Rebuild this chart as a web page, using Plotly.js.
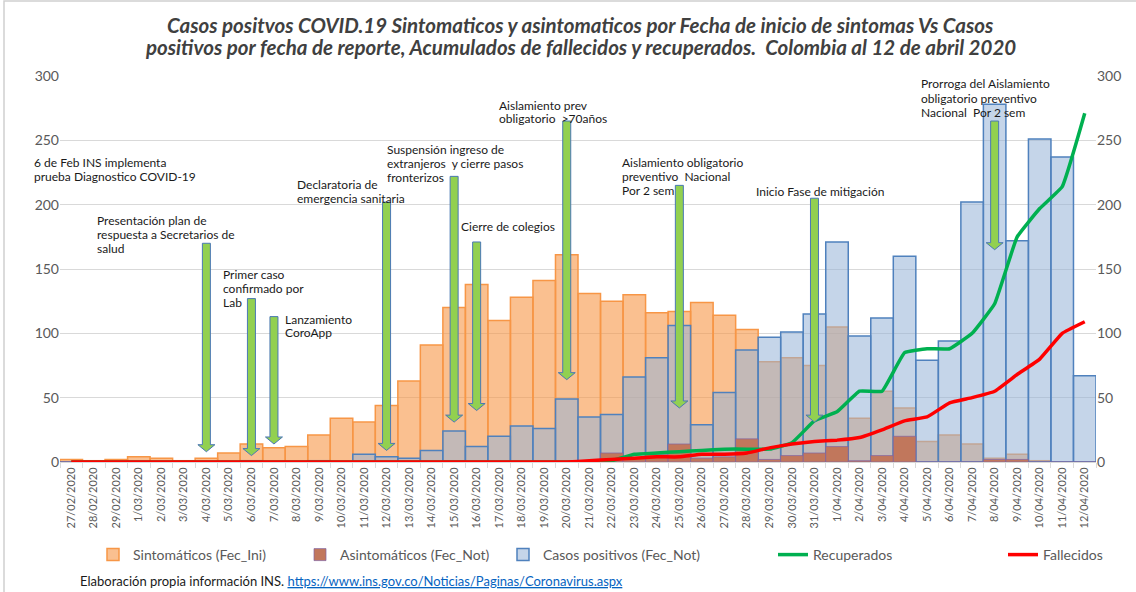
<!DOCTYPE html>
<html>
<head>
<meta charset="utf-8">
<script src="https://cdn.plot.ly/plotly-3.0.1.min.js"></script>
<style>html,body{margin:0;padding:0;background:#fff;}#chart{width:1136px;height:592px;}</style>
</head>
<body>
<div id="chart"></div>
<script>
const fechas = ['27/02/2020','28/02/2020','29/02/2020','1/03/2020','2/03/2020','3/03/2020','4/03/2020','5/03/2020','6/03/2020','7/03/2020','8/03/2020','9/03/2020','10/03/2020','11/03/2020','12/03/2020','13/03/2020','14/03/2020','15/03/2020','16/03/2020','17/03/2020','18/03/2020','19/03/2020','20/03/2020','21/03/2020','22/03/2020','23/03/2020','24/03/2020','25/03/2020','26/03/2020','27/03/2020','28/03/2020','29/03/2020','30/03/2020','31/03/2020','1/04/2020','2/04/2020','3/04/2020','4/04/2020','5/04/2020','6/04/2020','7/04/2020','8/04/2020','9/04/2020','10/04/2020','11/04/2020','12/04/2020'];

const sintomaticos = [2,1,2,4,3,1,3,7,14,11,12,21,34,31,44,63,91,120,138,110,128,141,161,131,125,130,116,117,124,114,103,78,81,75,105,34,55,42,16,21,14,3,6,1,0,0];

const asintomaticos = [0,0,0,0,0,0,0,0,0,0,0,0,0,0,0,0,0,1,0,0,0,0,0,0,7,3,6,14,3,4,18,2,5,7,12,1,5,20,0,0,0,2,2,0,0,0];

const casosPositivos = [0,0,0,0,0,0,0,0,1,0,0,1,0,6,4,3,9,24,12,20,28,26,49,35,37,66,81,106,29,54,87,97,101,115,171,98,112,160,79,94,202,278,172,251,237,67];

const recuperados = [0,0,0,0,0,0,0,0,0,0,0,0,0,0,0,0,0,0,0,0,0,0,0,0,1,6,7,8,9,10,10,10,15,32,39,55,55,85,88,88,100,123,175,197,214,271];

const fallecidos = [0,0,0,0,0,0,0,0,0,0,0,0,0,0,0,0,0,0,0,0,0,0,0,1,2,3,4,4,6,6,7,11,14,16,17,19,25,32,35,46,50,55,68,80,100,109];

const nombresSeries = ['Sintomáticos (Fec_Ini)','Asintomáticos (Fec_Not)','Casos positivos (Fec_Not)','Recuperados','Fallecidos'];

// Hitos: fecha del evento, inicio y punta de la flecha (en casos)
const hitoFechas = ['4/03/2020','6/03/2020','7/03/2020','12/03/2020','15/03/2020','16/03/2020','20/03/2020','25/03/2020','31/03/2020','8/04/2020'];
const hitoInicio = [170,127,113,202,222,171,265,215,205,265];
const hitoPunta  = [8,5,14,9,31,40,64,42,31,165];

const tituloLineas = [
  'Casos positvos COVID.19 Sintomaticos y asintomaticos por Fecha de inicio de sintomas Vs Casos',
  'positivos por fecha de reporte, Acumulados de fallecidos y recuperados.  Colombia al 12 de abril 2020'
];

// ---- layout helpers (pixel -> paper) ----
const L = 60, R = 1096, T = 76, B = 462;
const px = x => (x - L) / (R - L);
const py = y => (B - y) / (B - T);

const FONT = 'Lato, "Open Sans", sans-serif';

const traces = [
  {type:'bar', name:nombresSeries[0], x:fechas, y:sintomaticos, legend:'legend',
   marker:{color:'rgba(247,150,70,0.6)', line:{color:'#f79646', width:1.5}}},
  {type:'bar', name:nombresSeries[2], x:fechas, y:casosPositivos, legend:'legend3',
   marker:{color:'rgba(149,179,215,0.55)', line:{color:'#4f81bd', width:1.5}}},
  {type:'bar', name:nombresSeries[1], x:fechas, y:asintomaticos, legend:'legend2',
   marker:{color:'#c1775c', line:{color:'rgba(128,100,162,0.7)', width:1}}},
  {type:'scatter', mode:'lines', name:nombresSeries[3], x:fechas, y:recuperados, yaxis:'y2', legend:'legend4',
   line:{color:'#00b050', width:3.5, shape:'spline', smoothing:0.3}},
  {type:'scatter', mode:'lines', name:nombresSeries[4], x:fechas, y:fallecidos, yaxis:'y2', legend:'legend5',
   line:{color:'#ff0000', width:3.5, shape:'spline', smoothing:0.3}}
];

// Notes: [left px, center-y px, text]
const notas = [
  [32,162,'6 de Feb INS implementa'],[32,176,'prueba Diagnostico COVID-19'],
  [95,220,'Presentación plan de'],[95,234,'respuesta a Secretarios de'],[95,248,'salud'],
  [221,274,'Primer caso'],[221,288,'confirmado por'],[221,302,'Lab'],
  [283,319,'Lanzamiento'],[283,333,'CoroApp'],
  [295,184,'Declaratoria de'],[295,198,'emergencia sanitaria'],
  [385,149,'Suspensión ingreso de'],[385,163,'extranjeros  y cierre pasos'],[385,177,'fronterizos'],
  [459,227,'Cierre de colegios'],
  [497,105,'Aislamiento prev'],[497,118,'obligatorio  >70años'],
  [620,162,'Aislamiento obligatorio'],[620,176,'preventivo  Nacional'],[620,190,'Por 2 sem'],
  [754,191,'Inicio Fase de mitigación'],
  [919,84,'Prorroga del Aislamiento'],[919,98,'obligatorio preventivo'],[919,112,'Nacional  Por 2 sem']
];

const annotations = notas.map(n => ({
  xref:'paper', yref:'paper', x:px(n[0]), y:py(n[1]), xanchor:'left', yanchor:'middle',
  text:n[2], showarrow:false, font:{family:FONT, size:12, color:'#1a1a1a'}
}));

// title lines
[[25, tituloLineas[0]], [47, tituloLineas[1]]].forEach(t => {
  annotations.push({xref:'paper', yref:'paper', x:px(580), y:py(t[0]), xanchor:'center', yanchor:'middle',
    showarrow:false, text:'<b><i>'+t[1]+'</i></b>', font:{family:FONT, size:20.5, color:'#404040'}});
});

annotations.push({
  xref:'paper', yref:'paper', x:px(78), y:py(581), xanchor:'left', yanchor:'middle', showarrow:false,
  text:'Elaboración propia información INS. <a href="https://www.ins.gov.co/Noticias/Paginas/Coronavirus.aspx" style="color:#0563c1;text-decoration:underline">https://www.ins.gov.co/Noticias/Paginas/Coronavirus.aspx</a>',
  font:{family:FONT, size:13, color:'#1a1a1a'}
});

// Block arrows
const headH = 7 * 300 / 386;
const shapes = hitoFechas.map((f, i) => {
  const t = hitoInicio[i], p = hitoPunta[i], h = p + headH;
  return {
    type:'path', xref:'x', yref:'y', xsizemode:'pixel', xanchor:f,
    path:`M-4,${t} L4,${t} L4,${h} L8.5,${h} L0,${p} L-8.5,${h} L-4,${h} Z`,
    fillcolor:'#92d050', line:{color:'#4a78b5', width:1}, layer:'above'
  };
});
// thin outer frame
shapes.push({type:'path', xref:'paper', yref:'paper',
  path:`M${px(4)},${py(600)} L${px(4)},${py(1)} L${px(1140)},${py(1)}`,
  line:{color:'#d0d0d0', width:1.5}, layer:'below'});

const legendBase = {orientation:'h', xanchor:'left', y:py(555), yanchor:'middle',
  font:{family:FONT, size:14, color:'#595959'}, bgcolor:'rgba(0,0,0,0)', itemwidth:30};
const textStarts = [135, 342, 545, 815, 1045];

const layout = {
  width:1136, height:592,
  margin:{l:L, r:1136-R, t:T, b:592-B, pad:0},
  paper_bgcolor:'#ffffff', plot_bgcolor:'#ffffff',
  barmode:'overlay', bargap:0,
  showlegend:true,
  xaxis:{type:'category', tickangle:-90, tickfont:{family:FONT, size:11, color:'#595959'},
         showgrid:false, showline:true, linecolor:'#d9d9d9', linewidth:1,
         ticks:'outside', tickson:'boundaries', ticklen:5, tickcolor:'#d9d9d9',
         range:[-0.5, fechas.length-0.5], fixedrange:true},
  yaxis:{range:[0,300], dtick:50, gridcolor:'#d9d9d9', gridwidth:1, zeroline:false, showline:false,
         tickfont:{family:FONT, size:14, color:'#595959'}, ticks:'', fixedrange:true},
  yaxis2:{range:[0,300], dtick:50, overlaying:'y', side:'right', showgrid:false, zeroline:false,
          showline:false, tickfont:{family:FONT, size:14, color:'#595959'}, ticks:'', fixedrange:true},
  legend: Object.assign({}, legendBase, {x:px(textStarts[0]-42)}),
  legend2:Object.assign({}, legendBase, {x:px(textStarts[1]-42)}),
  legend3:Object.assign({}, legendBase, {x:px(textStarts[2]-42)}),
  legend4:Object.assign({}, legendBase, {x:px(textStarts[3]-42)}),
  legend5:Object.assign({}, legendBase, {x:px(textStarts[4]-42)}),
  annotations:annotations,
  shapes:shapes
};

Plotly.newPlot('chart', traces, layout, {displayModeBar:false, staticPlot:true});
</script>
</body>
</html>
